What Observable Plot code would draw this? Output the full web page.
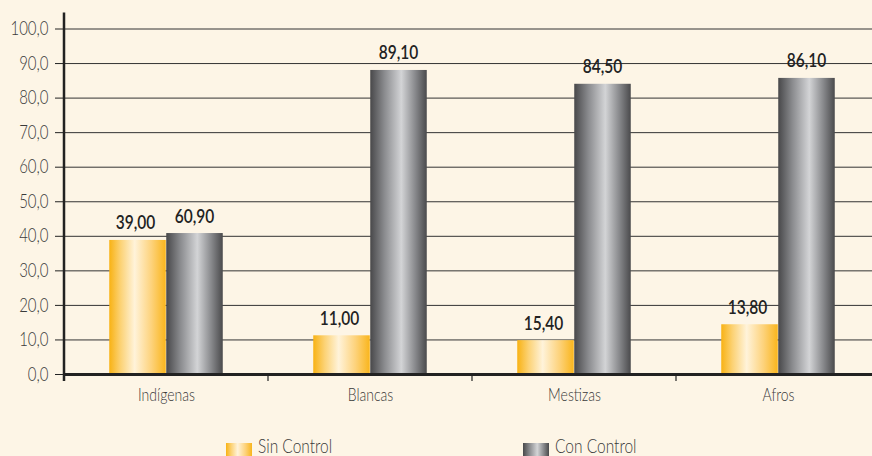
<!DOCTYPE html>
<html>
<head>
<meta charset="utf-8">
<script src="https://cdn.jsdelivr.net/npm/d3@7"></script>
<script src="https://cdn.jsdelivr.net/npm/@observablehq/plot@0.6"></script>
<style>
  html, body { margin: 0; padding: 0; background: #fdf5e6; overflow: hidden; }
  #wrap { position: relative; width: 872px; height: 456px; font-family: Lato, "Open Sans", sans-serif; color: #3a3a3a; }
  #legend { position: relative; height: 36px; }
  .sw { position: absolute; top: 23px; width: 26px; height: 16px; }
  .lt { position: absolute; top: 19px; font-size: 15.5px; font-weight: 300; line-height: 16px; white-space: nowrap; transform: scaleY(1.27); transform-origin: 0 80%; }
</style>
</head>
<body>
<div id="wrap">
  <div id="chart"></div>
  <div id="legend"></div>
</div>
<script>
const categories = ["Indígenas", "Blancas", "Mestizas", "Afros"];
const seriesNames = ["Sin Control", "Con Control"];
// bar heights as drawn in the picture
const sinControl = [38.8, 11.2, 9.8, 14.4];
const conControl = [40.8, 88.0, 84.0, 85.7];
// value labels as printed
const sinLabels = ["39,00", "11,00", "15,40", "13,80"];
const conLabels = ["60,90", "89,10", "84,50", "86,10"];
const yTicks = [0, 10, 20, 30, 40, 50, 60, 70, 80, 90, 100];

const sinRows = categories.map((c, i) => ({cat: c, value: sinControl[i], label: sinLabels[i]}));
const conRows = categories.map((c, i) => ({cat: c, value: conControl[i], label: conLabels[i]}));

const fontFamily = 'Lato, "Open Sans", sans-serif';
const stretch = 1.27;

const boundaryTicks = (index, scales) => {
  const g = d3.create("svg:g");
  const x = scales.x, y = scales.y;
  categories.forEach((c, i) => {
    g.append("line")
      .attr("x1", x(c)).attr("x2", x(c))
      .attr("y1", i === 0 ? y(100) - 16 : y(0))
      .attr("y2", y(0) + 7)
      .attr("stroke", "#222")
      .attr("stroke-width", i === 0 ? 2.5 : 1.2);
  });
  return g.node();
};

const chart = Plot.plot({
  width: 872,
  height: 420,
  marginLeft: 63,
  marginRight: 0,
  marginTop: 28.5,
  marginBottom: 46,
  style: {background: "transparent", fontFamily, color: "#3a3a3a", overflow: "visible"},
  x: {type: "band", domain: categories, range: [63, 881], padding: 0, label: null},
  y: {domain: [0, 100], label: null},
  marks: [
    Plot.ruleY(yTicks, {stroke: "#333", strokeWidth: 1}),
    Plot.barY(sinRows, {x: "cat", y: "value", fill: "url(#gradSin)", insetLeft: 45.25, insetRight: 102.25}),
    Plot.barY(conRows, {x: "cat", y: "value", fill: "url(#gradCon)", insetLeft: 102.25, insetRight: 45.25}),
    Plot.ruleY([0], {stroke: "#222", strokeWidth: 3}),
    boundaryTicks,
    Plot.axisY({ticks: yTicks, tickSize: 8, tickPadding: 7, stroke: "#222",
      tickFormat: d => d3.format(".1f")(d).replace(".", ","), fontSize: 15, fontWeight: 300, fontFamily}),
    Plot.axisX({tickSize: 0, tickPadding: 14, fontSize: 14, fontWeight: 300, fontFamily}),
    Plot.text(sinRows, {x: "cat", y: "value", text: "label", dx: -31, dy: -11, lineAnchor: "bottom",
      fontSize: 15.5, fontWeight: 600, fill: "#222", fontFamily}),
    Plot.text(conRows, {x: "cat", y: "value", text: "label", dx: 28, dy: -11, lineAnchor: "bottom",
      fontSize: 15.5, fontWeight: 600, fill: "#222", fontFamily})
  ]
});

// vertically stretched lettering, as in the reference (scale about each text's anchor)
d3.select(chart).selectAll("text").each(function () {
  const t = this.getAttribute("transform") || "";
  this.setAttribute("transform", `${t} scale(1,${stretch})`);
});

// gradients
const defs = d3.select(chart).insert("defs", ":first-child");
const addGrad = (id, stops) => {
  const g = defs.append("linearGradient").attr("id", id).attr("x1", "0").attr("x2", "1").attr("y1", "0").attr("y2", "0");
  stops.forEach(([o, c]) => g.append("stop").attr("offset", o).attr("stop-color", c));
};
const sinStops = [["0%", "#f8b214"], ["20%", "#fcd274"], ["45%", "#fff3da"], ["75%", "#fdd27a"], ["100%", "#f9b51c"]];
const conStops = [["0%", "#48484a"], ["25%", "#8a8b8e"], ["55%", "#d3d4d6"], ["80%", "#87888b"], ["100%", "#4a4a4c"]];
addGrad("gradSin", sinStops);
addGrad("gradCon", conStops);

document.getElementById("chart").appendChild(chart);

// legend
const legend = d3.select("#legend");
const cssGrad = stops => `linear-gradient(to right, ${stops.map(([o, c]) => `${c} ${o}`).join(", ")})`;
const legendItems = [
  {name: seriesNames[0], stops: sinStops, left: 226},
  {name: seriesNames[1], stops: conStops, left: 523}
];
legendItems.forEach(it => {
  legend.append("div").attr("class", "sw").style("left", it.left + "px").style("background", cssGrad(it.stops));
  legend.append("div").attr("class", "lt").style("left", (it.left + 32) + "px").text(it.name);
});
</script>
</body>
</html>
